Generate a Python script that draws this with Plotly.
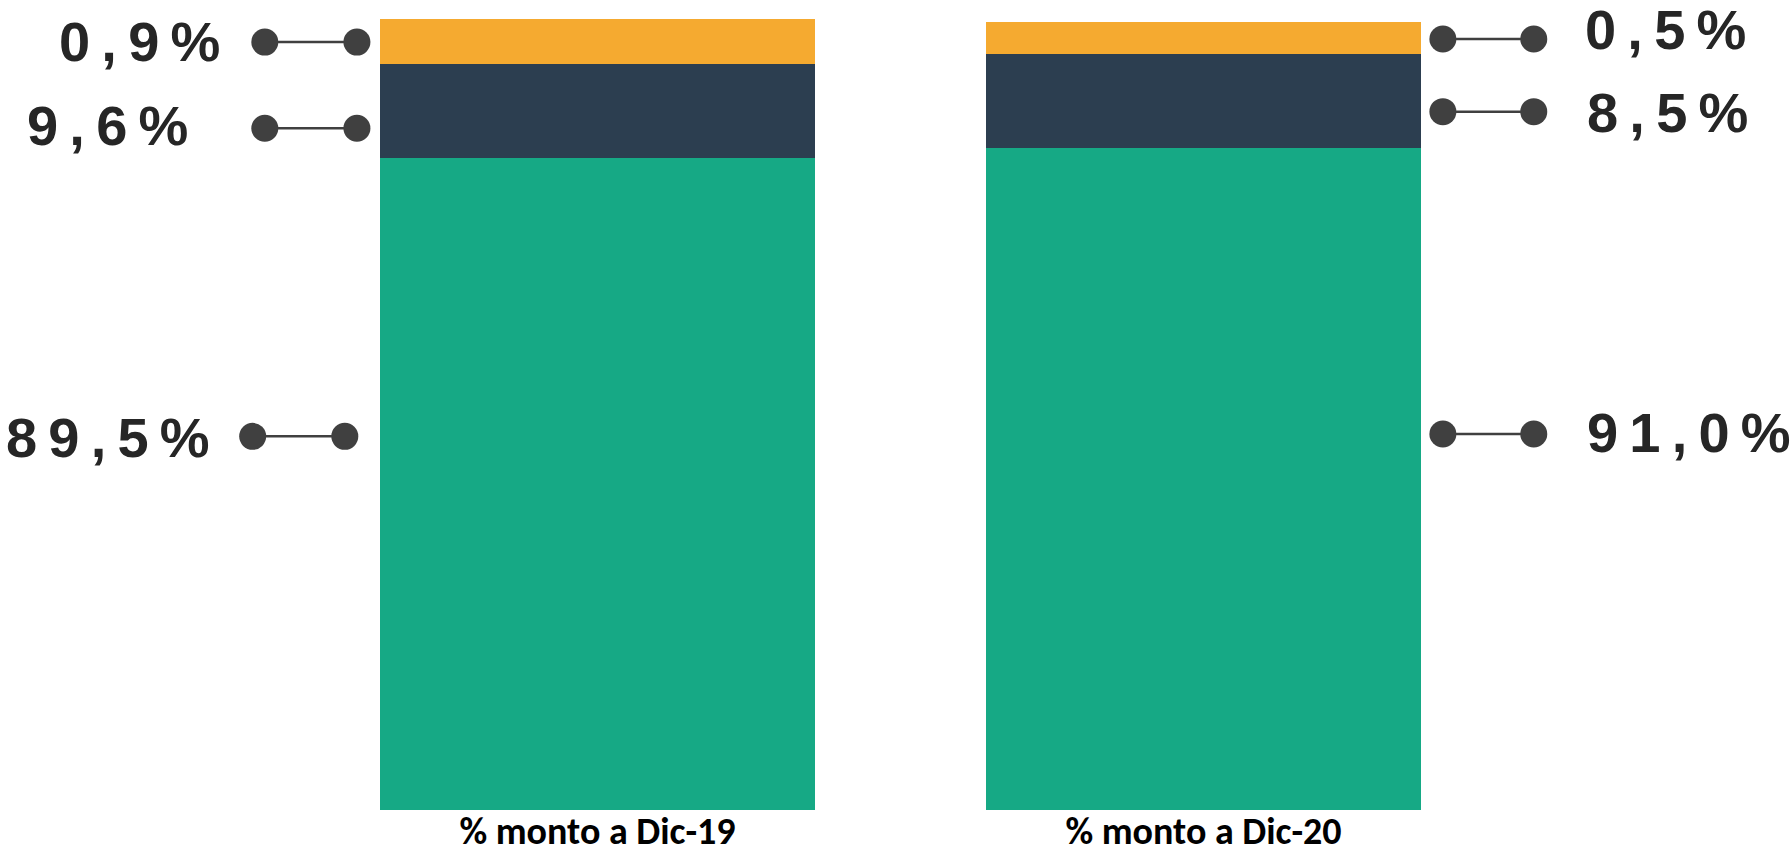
import plotly.graph_objects as go

# ---- datos ----
categorias = ['% monto a Dic-19', '% monto a Dic-20']
# altura visible de cada tramo de la barra (escala del eje, 0-100)
tramo_verde = [82.5, 83.8]
tramo_azul = [11.9, 11.9]
tramo_naranja = [5.7, 4.0]
# etiquetas de cada tramo: naranja, azul, verde
etiquetas_19 = ['0,9%', '9,6%', '89,5%']
etiquetas_20 = ['0,5%', '8,5%', '91,0%']

COLOR_VERDE = '#16A985'
COLOR_AZUL = '#2C3E50'
COLOR_NARANJA = '#F5AA30'
COLOR_GUIA = '#404040'

W, H = 1791, 848
PX_X = 606.0                 # pixeles por unidad de x
PX_Y = 7.9                   # pixeles por unidad de y
X0 = 294.5 + 0.5 * PX_X      # pixel de x=0
Y0 = 810.0                   # pixel de y=0


def espaciar(txt):
    # simula el espaciado entre letras del original
    return '\u2009'.join(txt)


fig = go.Figure()

for nombre, valores, color in [('verde', tramo_verde, COLOR_VERDE),
                               ('azul', tramo_azul, COLOR_AZUL),
                               ('naranja', tramo_naranja, COLOR_NARANJA)]:
    fig.add_trace(go.Bar(x=[0, 1], y=valores, name=nombre, width=0.718,
                         marker=dict(color=color, line=dict(width=0)),
                         hoverinfo='skip', showlegend=False))

# guias (punto - linea - punto) y textos
# (x punto lejano, x punto cercano, y punto, x texto, y texto)
guias_19 = [(-0.549, -0.397, 97.2, -0.620, 97.3),
            (-0.549, -0.397, 86.3, -0.672, 86.6),
            (-0.569, -0.417, 47.3, -0.636, 47.1)]
guias_20 = [(1.545, 1.395, 97.6, 1.626, 98.8),
            (1.545, 1.395, 88.4, 1.629, 88.3),
            (1.545, 1.395, 47.6, 1.629, 47.8)]

gx, gy = [], []
for g in guias_19 + guias_20:
    gx += [g[0], g[1], None]
    gy += [g[2], g[2], None]
fig.add_trace(go.Scatter(x=gx, y=gy, mode='lines+markers',
                         line=dict(color=COLOR_GUIA, width=2.5),
                         marker=dict(color=COLOR_GUIA, size=27),
                         hoverinfo='skip', showlegend=False))

fuente_pct = dict(family='Liberation Sans, Arial, sans-serif', size=56,
                  color='#262626')
for g, txt in zip(guias_19, etiquetas_19):
    fig.add_annotation(x=g[3], y=g[4], text='<b>%s</b>' % espaciar(txt),
                       showarrow=False, xanchor='right', yanchor='middle',
                       font=fuente_pct)
for g, txt in zip(guias_20, etiquetas_20):
    fig.add_annotation(x=g[3], y=g[4], text='<b>%s</b>' % espaciar(txt),
                       showarrow=False, xanchor='left', yanchor='middle',
                       font=fuente_pct)

fig.update_layout(
    width=W, height=H,
    margin=dict(l=0, r=0, t=0, b=0, autoexpand=False),
    paper_bgcolor='white', plot_bgcolor='white',
    barmode='stack', bargap=0,
)

fig.update_xaxes(range=[-X0 / PX_X, (W - X0) / PX_X],
                 anchor='free', position=(H - Y0) / H, automargin=False,
                 tickvals=[0, 1], ticktext=['<b>%s</b>' % c for c in categorias],
                 tickfont=dict(family="Carlito, 'Liberation Sans Narrow', 'DejaVu Sans Condensed', sans-serif",
                               size=38, color='#000000'),
                 ticklabelstandoff=-5,
                 showgrid=False, zeroline=False, showline=False, ticks='',
                 fixedrange=True)
fig.update_yaxes(range=[-(H - Y0) / PX_Y, Y0 / PX_Y], automargin=False,
                 showgrid=False, zeroline=False, showline=False,
                 showticklabels=False, fixedrange=True)

# sin margen en el body para que la figura empiece en (0, 0)
fig.write_html('out.html', config={'displayModeBar': False},
               post_script="document.body.style.margin='0';")
